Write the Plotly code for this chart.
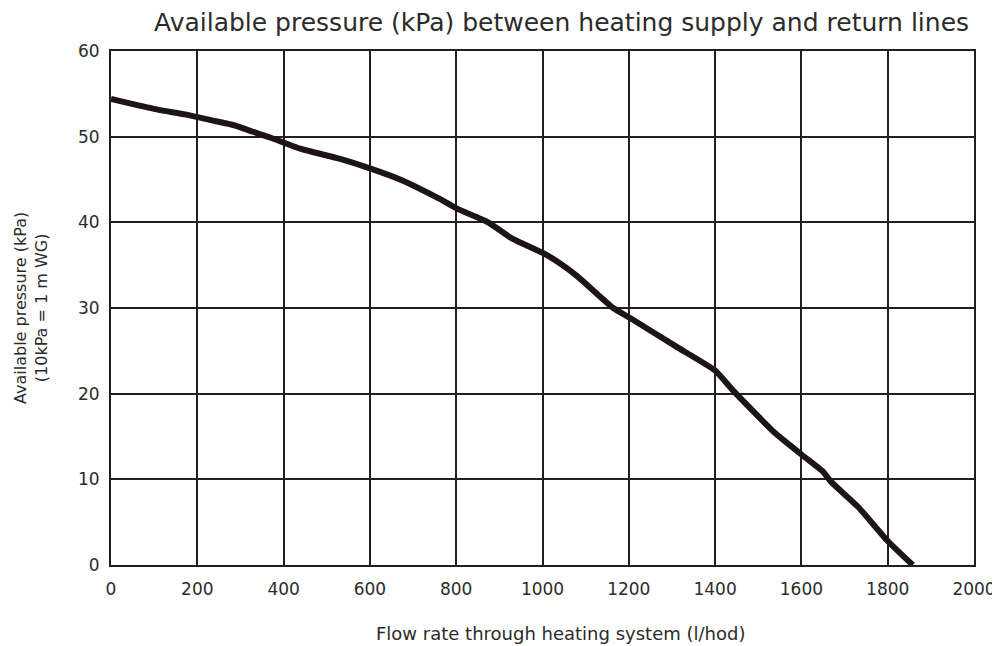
import plotly.graph_objects as go

flow = [0, 51, 114, 172, 234, 288, 327, 369, 438, 531, 600, 670, 763, 802, 874, 930,
        1002, 1041, 1081, 1164, 1204, 1313, 1400, 1443, 1539, 1600, 1650, 1669, 1731, 1800, 1858]
pressure = [54.4, 53.8, 53.1, 52.6, 51.9, 51.3, 50.6, 49.9, 48.6, 47.4, 46.3, 45.0, 42.7, 41.6, 40.0, 38.1,
            36.4, 35.2, 33.7, 30.0, 28.8, 25.4, 22.7, 20.3, 15.4, 12.9, 10.9, 9.7, 6.8, 2.8, 0.0]

x_ticks = [0, 200, 400, 600, 800, 1000, 1200, 1400, 1600, 1800, 2000]
y_ticks = [0, 10, 20, 30, 40, 50, 60]

title = "Available pressure (kPa) between heating supply and return lines"
x_title = "Flow rate through heating system (l/hod)"
y_title = "Available pressure (kPa)<br>(10kPa = 1 m WG)"

FONT = "'DejaVu Sans', sans-serif"
INK = "#231f20"
TXT = "#2b2b2b"

fig = go.Figure()
fig.add_trace(go.Scatter(x=flow, y=pressure, mode="lines",
                         line=dict(color="#1c1416", width=6, shape="spline", smoothing=0.5),
                         showlegend=False, hoverinfo="skip"))

fig.update_layout(
    width=992, height=638,
    margin=dict(l=103, r=26, t=43, b=81),
    paper_bgcolor="white", plot_bgcolor="white",
    font=dict(family=FONT, color=TXT),
    title=dict(text=title, x=0.558, xanchor="center", y=0.978, yanchor="middle",
               font=dict(size=25, color=TXT, family=FONT)),
    xaxis=dict(range=[0, 2000], tickvals=x_ticks, ticktext=[str(v) for v in x_ticks],
               showgrid=True, gridcolor=INK, gridwidth=2, automargin=False,
               showline=True, linecolor=INK, linewidth=2, mirror=True,
               zeroline=False, ticks="", ticklabelstandoff=8,
               tickfont=dict(size=17, color=TXT, family=FONT)),
    yaxis=dict(range=[0, 60], tickvals=y_ticks, ticktext=[str(v) for v in y_ticks],
               showgrid=True, gridcolor=INK, gridwidth=1.5, automargin=False,
               showline=True, linecolor=INK, linewidth=2, mirror=True,
               zeroline=False, ticks="", ticklabelstandoff=6,
               tickfont=dict(size=17, color=TXT, family=FONT)),
    annotations=[
        dict(text=x_title, xref="paper", yref="paper", x=0.521, y=0, yshift=-68,
             xanchor="center", yanchor="middle", showarrow=False,
             font=dict(size=18, color=TXT, family=FONT)),
        dict(text=y_title, xref="paper", yref="paper", x=0, y=0.5, xshift=-80, yshift=0,
             xanchor="center", yanchor="middle", showarrow=False, textangle=-90,
             font=dict(size=16, color=TXT, family=FONT)),
    ],
)

fig.write_html("out.html")
